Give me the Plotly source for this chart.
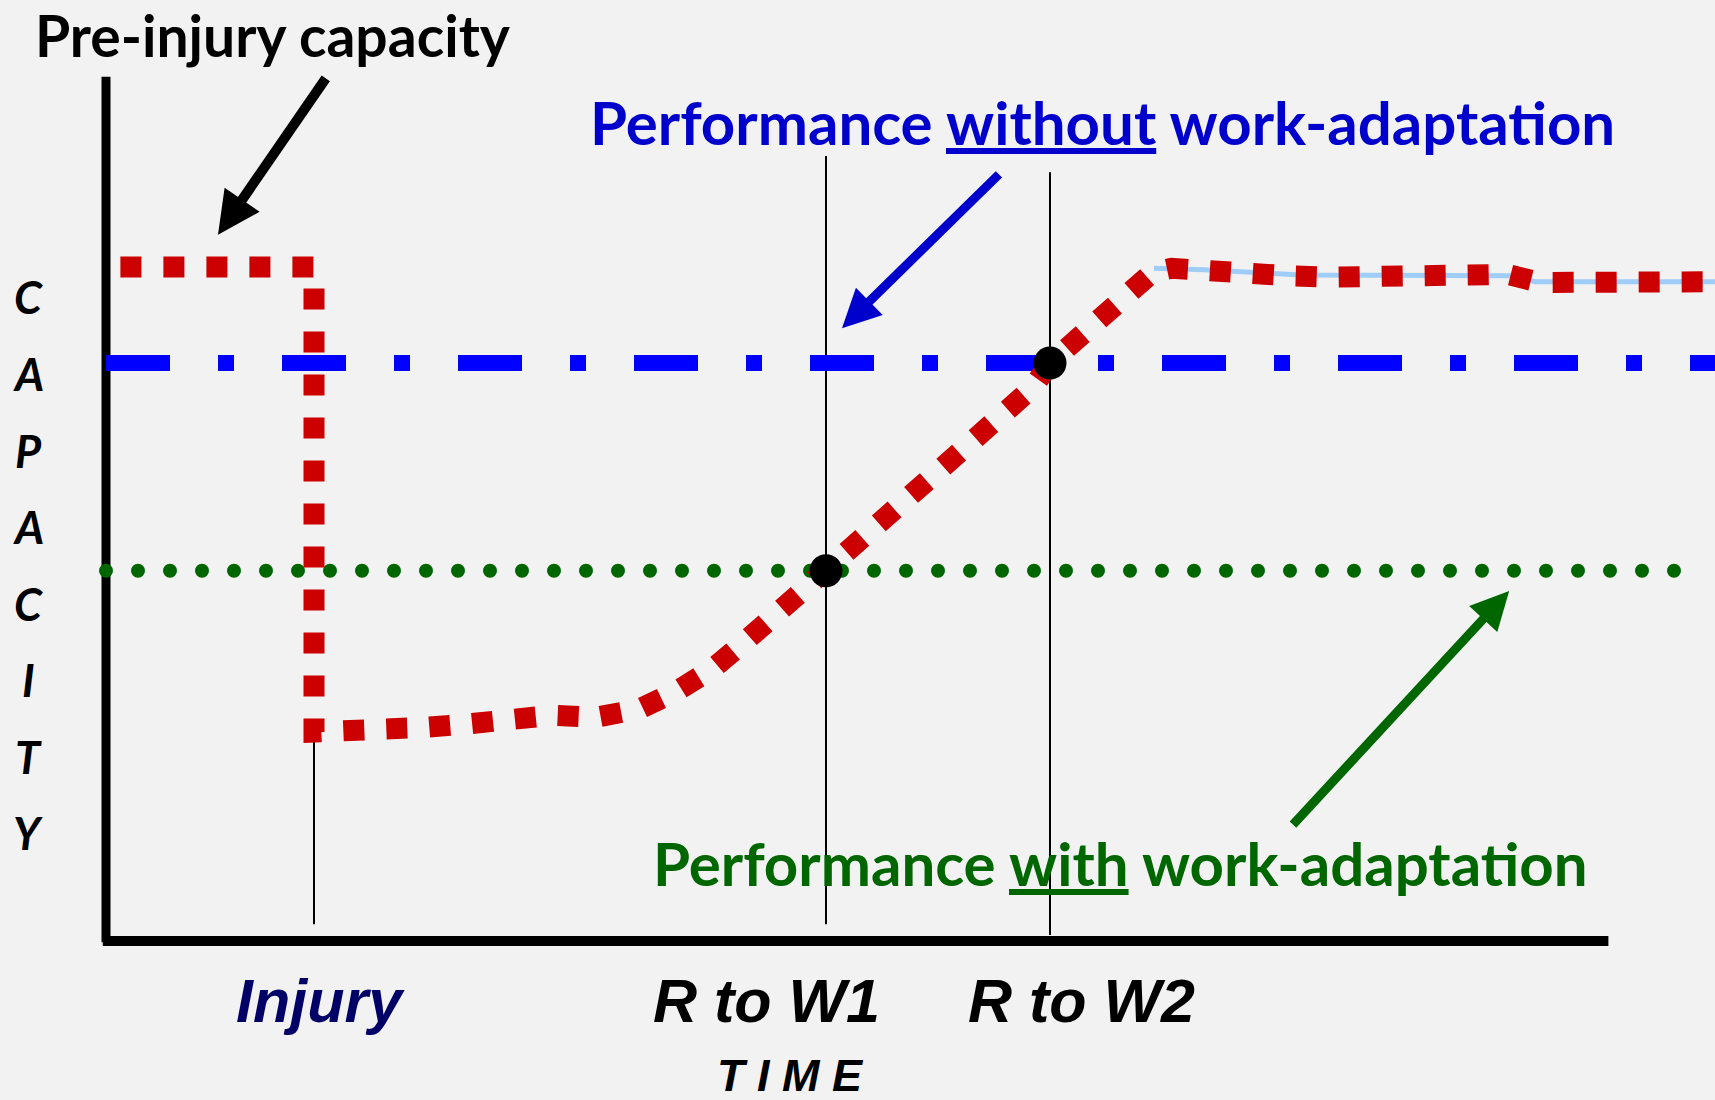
import plotly.graph_objects as go

# ---------------- data ----------------
events = ["Injury", "R to W1", "R to W2"]
event_time = [13, 45, 59]

pre_injury_capacity = 100
capacity_without_adaptation = 85.7
capacity_with_adaptation = 54.8

perf_time = [0.9, 13.0, 13.0, 14.6, 17.3, 20.0, 22.6, 25.3, 27.9, 30.6,
             33.3, 35.6, 37.9, 39.8, 41.2, 45.0, 48.1, 51.5, 54.9, 57.9,
             59.0, 61.7, 63.8, 65.4, 66.6, 68.6, 71.3, 73.9, 76.5, 79.2,
             81.9, 84.6, 87.6, 89.6, 93.0, 96.0, 100.6]
perf_capacity = [100, 100, 30.8, 30.8, 31.1, 31.5, 32.0, 32.9, 33.3, 33.0,
                 34.2, 36.8, 40.2, 44.0, 46.9, 54.8, 60.8, 68.1, 75.4, 82.0,
                 85.7, 91.2, 95.5, 99.2, 99.8, 99.7, 99.3, 98.7, 98.5, 98.7,
                 98.9, 99.0, 98.9, 97.7, 97.6, 97.8, 97.8]

shadow_time = [65.5, 68.6, 72.4, 74.6, 87.9, 89.3, 100.6]
shadow_capacity = [99.8, 99.6, 99.1, 98.8, 98.7, 97.8, 97.8]

capacity_letters = list("CAPACITY")
time_label = "T I M E"

# ---------------- figure ----------------
BG = "#f2f2f2"
RED = "#cc0000"
BLUE = "#0000ff"
BLUE_TXT = "#0000cc"
GREEN = "#006600"
NAVY = "#000066"

fig = go.Figure()

# performance without work-adaptation (dash-dot)
fig.add_trace(go.Scatter(
    x=[0, 100.6], y=[capacity_without_adaptation] * 2, mode="lines",
    line=dict(color=BLUE, width=16, dash="64px,48px,16px,48px"),
    hoverinfo="skip", uid="blue"))

# performance with work-adaptation (dotted)
fig.add_trace(go.Scatter(
    x=[0, 98.1], y=[capacity_with_adaptation] * 2, mode="lines",
    line=dict(color=GREEN, width=14, dash="14px,18px"),
    hoverinfo="skip", uid="green"))

# faint underlying line
fig.add_trace(go.Scatter(
    x=shadow_time, y=shadow_capacity, mode="lines",
    line=dict(color="#9fcdf7", width=5),
    hoverinfo="skip", uid="shadow"))

# actual capacity curve
fig.add_trace(go.Scatter(
    x=perf_time, y=perf_capacity, mode="lines",
    line=dict(color=RED, width=21, dash="21px,22px"),
    hoverinfo="skip", uid="red"))

# return-to-work points
fig.add_trace(go.Scatter(
    x=event_time[1:], y=[capacity_with_adaptation, capacity_without_adaptation],
    mode="markers", marker=dict(color="black", size=33),
    hoverinfo="skip", uid="dots"))

shapes = [
    # axes
    dict(type="line", xref="x", yref="y", x0=0, x1=0, y0=-0.5, y1=128.3,
         line=dict(color="black", width=9), layer="below"),
    dict(type="line", xref="x", yref="y", x0=-0.2, x1=93.9, y0=-0.3, y1=-0.3,
         line=dict(color="black", width=10), layer="below"),
]
event_line_spans = [(2.2, 30.7), (2.2, 116.5), (0.6, 114.1)]
for t, (y0, y1) in zip(event_time, event_line_spans):
    shapes.append(dict(type="line", xref="x", yref="y", x0=t, x1=t, y0=y0, y1=y1,
                       line=dict(color="black", width=2), layer="below"))

annotations = []
TITLE_FONT = "Lato, 'Open Sans', sans-serif"
ARIAL = "'Liberation Sans', Arial, sans-serif"

annotations.append(dict(
    text="<b>Pre-injury capacity</b>", xref="paper", yref="paper",
    x=273 / 1715, y=1 - 35 / 1100, xanchor="center", yanchor="middle",
    showarrow=False, font=dict(family=TITLE_FONT, size=57, color="black")))
annotations.append(dict(
    text="<b>Performance <u>without</u> work-adaptation</b>", xref="paper", yref="paper",
    x=1102 / 1715, y=1 - 122 / 1100, xanchor="center", yanchor="middle",
    showarrow=False, font=dict(family=TITLE_FONT, size=60, color=BLUE_TXT)))
annotations.append(dict(
    text="<b>Performance <u>with</u> work-adaptation</b>", xref="paper", yref="paper",
    x=1120 / 1715, y=1 - 863 / 1100, xanchor="center", yanchor="middle",
    showarrow=False, font=dict(family=TITLE_FONT, size=60, color=GREEN)))

letter_y = [297, 374, 451, 527, 604, 680, 757, 833]
for ch, py in zip(capacity_letters, letter_y):
    annotations.append(dict(
        text="<b><i>%s</i></b>" % ch, xref="paper", yref="paper",
        x=28 / 1715, y=1 - py / 1100, xanchor="center", yanchor="middle",
        showarrow=False, font=dict(family=TITLE_FONT, size=45, color="black")))

label_shift = [6, -60, 31]
label_color = [NAVY, "black", "black"]
for name, t, sh, col in zip(events, event_time, label_shift, label_color):
    annotations.append(dict(
        text="<b><i>%s</i></b>" % name, xref="x", yref="paper",
        x=t, xshift=sh, y=1 - 1001 / 1100, xanchor="center", yanchor="middle",
        showarrow=False, font=dict(family=ARIAL, size=61, color=col)))

annotations.append(dict(
    text="<b><i>%s</i></b>" % time_label, xref="paper", yref="paper",
    x=790 / 1715, y=1 - 1075 / 1100, xanchor="center", yanchor="middle",
    showarrow=False, font=dict(family=ARIAL, size=45, color="black")))

# arrows
arrow_specs = [
    (7.0, 104.8, 13.8, 128.3, "black", 10),
    (46.0, 90.9, 55.9, 114.0, BLUE_TXT, 9),
    (87.7, 51.8, 74.1, 16.8, GREEN, 9),
]
for x, y, ax, ay, col, w in arrow_specs:
    annotations.append(dict(
        x=x, y=y, ax=ax, ay=ay, xref="x", yref="y", axref="x", ayref="y",
        text="", showarrow=True, arrowhead=2, arrowsize=0.85, arrowwidth=w,
        arrowcolor=col, standoff=0))

fig.update_layout(
    width=1715, height=1100,
    margin=dict(l=0, r=0, t=0, b=0),
    paper_bgcolor=BG, plot_bgcolor=BG,
    showlegend=False,
    xaxis=dict(range=[-6.625, 100.5625], visible=False, fixedrange=True),
    yaxis=dict(range=[-23.958, 139.732], visible=False, fixedrange=True),
    shapes=shapes, annotations=annotations,
    hovermode=False,
)

post = """
document.body.style.margin='0';
document.body.style.background='#f2f2f2';
function fixDots(){
  document.querySelectorAll('.tracegreen path.js-line').forEach(function(p){
    p.style.strokeLinecap='round';
    p.style.strokeDasharray='0px,32px';
  });
}
fixDots();
var gd=document.getElementById('{plot_id}');
if(gd && gd.on){ gd.on('plotly_afterplot', fixDots); }
"""

fig.write_html("out.html", config={"displayModeBar": False}, post_script=post)
